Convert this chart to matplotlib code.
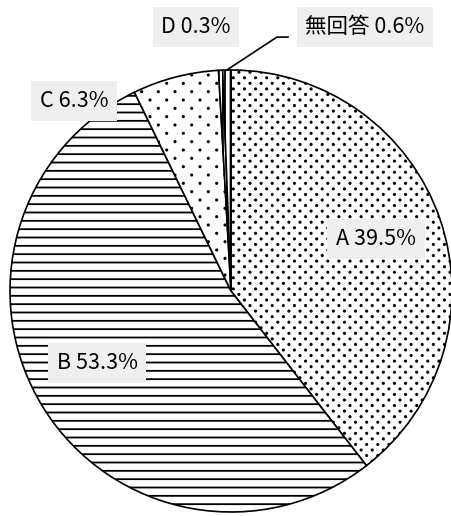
import matplotlib
matplotlib.use('Agg')
import matplotlib.pyplot as plt
import matplotlib.hatch as mhatch
from matplotlib.path import Path
import numpy as np

plt.rcParams['font.family'] = ['Noto Sans CJK JP', 'DejaVu Sans']
plt.rcParams['hatch.linewidth'] = 1.3

# データ
labels = ['A', 'B', 'C', 'D', '無回答']
values = [39.5, 53.3, 6.3, 0.3, 0.6]
hatches = ['...', '--', '..', '||||', '|||']

# ラベル位置 (円の半径=1 の座標)
label_pos = [(0.656, 0.235), (-0.606, -0.326), (-0.71, 0.86), (-0.158, 1.195), (0.606, 1.195)]


# 点の網掛け: 横に間隔をあけ、行をずらして並べる
class DiamondDots(mhatch.HatchPatternBase):
    def __init__(self, hatch, density):
        ncol = hatch.count('.') * 3
        circ = Path.unit_circle()
        self.shape_vertices = circ.vertices
        self.shape_codes = circ.codes
        self.pts = []
        if ncol:
            nrow = 2 * ncol
            for r in range(nrow + 1):
                if r % 2 == 0:
                    cols = np.arange(ncol + 1) / ncol
                else:
                    cols = (np.arange(ncol) + 0.5) / ncol
                for c in cols:
                    self.pts.append((c, r / nrow))
        self.num_vertices = len(self.pts) * len(self.shape_vertices)

    def set_vertices_and_codes(self, vertices, codes):
        vertices[:] = np.concatenate([self.shape_vertices * 0.0065 + p for p in self.pts])
        codes[:] = np.tile(self.shape_codes, len(self.pts))


mhatch._hatch_types = [DiamondDots if t is mhatch.SmallFilledCircles else t
                       for t in mhatch._hatch_types]

fig = plt.figure(figsize=(4.52, 5.16), dpi=100)
ax = fig.add_axes([0, 0, 1, 1])

wedges, _ = ax.pie(values, startangle=90, counterclock=False, radius=1.0,
                   colors=['white'] * len(values),
                   wedgeprops=dict(edgecolor='black', linewidth=1.2))
for w, h in zip(wedges, hatches):
    w.set_hatch(h)

for lab, v, (x, y) in zip(labels, values, label_pos):
    ax.text(x, y, f'{lab} {v:.1f}%', ha='center', va='center', fontsize=15.5,
            bbox=dict(boxstyle='square,pad=0.4', facecolor='#efefef', edgecolor='none'))

# 無回答の引き出し線
ax.plot([-0.019, 0.208, 0.258], [1.0, 1.149, 1.149], color='black', lw=1.2)

ax.set_xlim(-231 / 221, (452 - 231) / 221)
ax.set_ylim(-(516 - 291) / 221, 291 / 221)
ax.set_aspect('equal')
ax.axis('off')

fig.savefig('out.png', dpi=100)
